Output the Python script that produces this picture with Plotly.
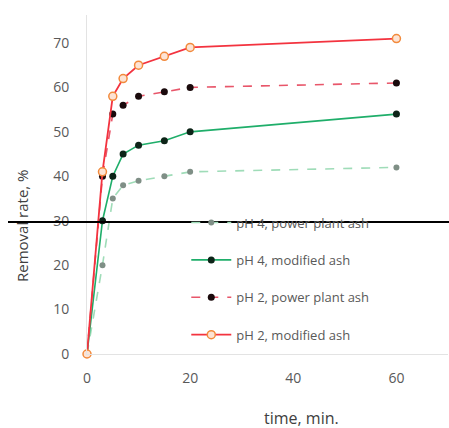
import plotly.graph_objects as go

time_min = [0, 3, 5, 7, 10, 15, 20, 60]
ph4_power = [0, 20, 35, 38, 39, 40, 41, 42]
ph4_mod = [0, 30, 40, 45, 47, 48, 50, 54]
ph2_power = [0, 40, 54, 56, 58, 59, 60, 61]
ph2_mod = [0, 41, 58, 62, 65, 67, 69, 71]

x_ticks = [0, 20, 40, 60]
y_ticks = [0, 10, 20, 30, 40, 50, 60, 70]

fig = go.Figure()
fig.add_trace(go.Scatter(x=time_min, y=ph4_power, name="pH 4, power plant ash",
                         mode="lines+markers", legendgroup="a",
                         line=dict(color="#9fdcb8", width=1.6, dash="dash"),
                         marker=dict(color="#7f8f86", size=6)))
fig.add_trace(go.Scatter(x=time_min, y=ph4_mod, name="pH 4, modified ash",
                         mode="lines+markers", legendgroup="b",
                         line=dict(color="#1fae6a", width=1.6),
                         marker=dict(color="#0d2418", size=7)))
fig.add_trace(go.Scatter(x=time_min, y=ph2_power, name="pH 2, power plant ash",
                         mode="lines+markers", legendgroup="c",
                         line=dict(color="#e8566a", width=1.6, dash="dash"),
                         marker=dict(color="#1a0a0c", size=7)))
fig.add_trace(go.Scatter(x=time_min, y=ph2_mod, name="pH 2, modified ash",
                         mode="lines+markers", legendgroup="d",
                         line=dict(color="#f3333f", width=1.8),
                         marker=dict(color="#fde3d4", size=8,
                                     line=dict(color="#f28a3c", width=1.5))))

axis_font = dict(family="Open Sans", size=14, color="#595959")
fig.update_layout(
    width=449, height=428,
    margin=dict(l=87, r=1, t=15, b=74),
    paper_bgcolor="white", plot_bgcolor="white",
    font=axis_font,
    xaxis=dict(range=[0, 70], tickvals=x_ticks, showgrid=False, zeroline=False,
               showline=True, linecolor="#e3e3e3", linewidth=1, ticks="",
               tickfont=axis_font, ticklabelstandoff=11),
    yaxis=dict(range=[0, 76.3], tickvals=y_ticks, showgrid=False, zeroline=False,
               showline=True, linecolor="#e3e3e3", linewidth=1, ticks="",
               tickfont=axis_font, ticklabelstandoff=14),
    legend=dict(x=0.275, y=0.432, xanchor="left", yanchor="top",
                font=dict(family="Open Sans", size=13, color="#595959"),
                itemwidth=40,
                tracegroupgap=17.5, bgcolor="rgba(0,0,0,0)"),
    showlegend=True,
)
fig.update_traces(cliponaxis=False)
fig.add_annotation(text="time, min.", xref="paper", yref="paper",
                   x=(301 - 87) / 361, y=-(418 - 354) / 339, showarrow=False,
                   font=dict(family="Open Sans", size=16, color="#404040"),
                   yanchor="middle")
fig.add_annotation(text="Removal rate, %", xref="paper", yref="paper",
                   x=-(87 - 22) / 361, y=(354 - 226) / 339, showarrow=False,
                   textangle=-90, font=dict(family="Open Sans", size=15, color="#404040"),
                   xanchor="center", yanchor="middle")
fig.add_shape(type="line", xref="paper", yref="paper",
              x0=-(87 - 8) / 361, x1=1.01, y0=(354 - 222) / 339, y1=(354 - 222) / 339,
              line=dict(color="black", width=2))

fig.write_html("out.html")
